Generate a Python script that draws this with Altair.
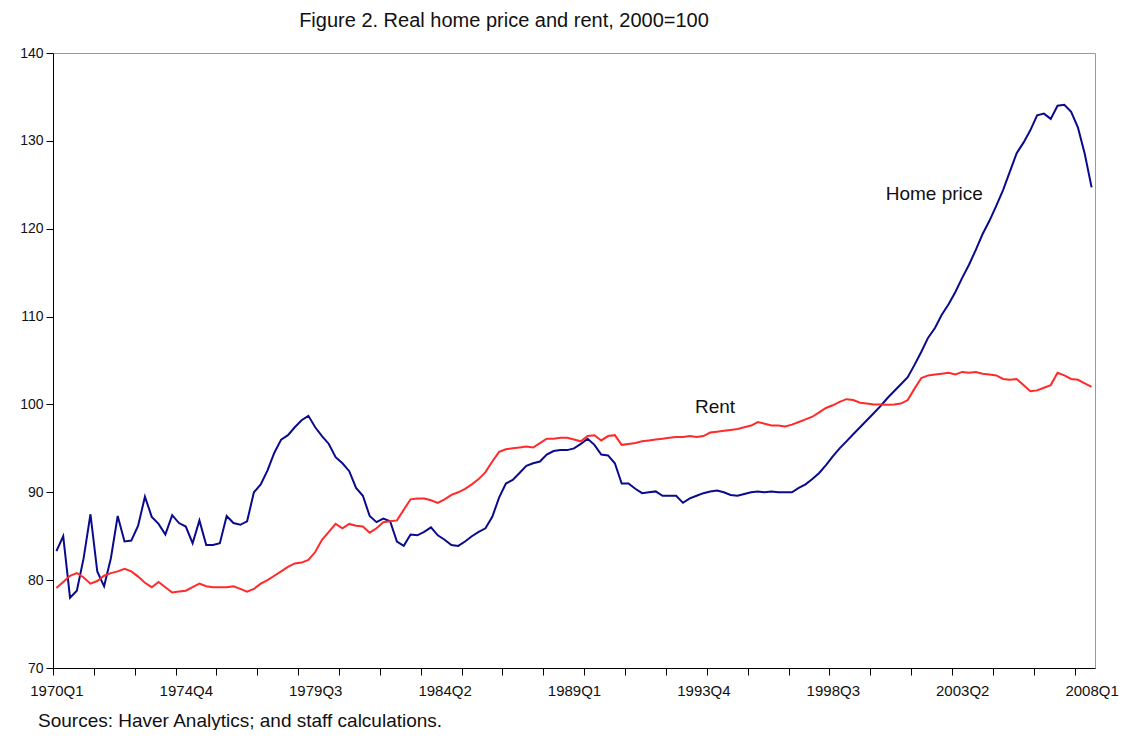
import altair as alt
import pandas as pd

# quarterly index 0 = 1970Q1 ... 152 = 2008Q1
home_price = [
    83.3, 85.0, 78.0, 78.8, 82.5, 87.5, 81.0, 79.3, 82.5, 87.3,
    84.4, 84.5, 86.2, 89.5, 87.2, 86.4, 85.2, 87.4, 86.5, 86.1,
    84.2, 86.8, 84.0, 84.0, 84.2, 87.3, 86.5, 86.3, 86.7, 90.0,
    90.9, 92.5, 94.5, 96.0, 96.5, 97.4, 98.2, 98.7, 97.4, 96.4,
    95.5, 94.0, 93.3, 92.4, 90.5, 89.6, 87.3, 86.6, 87.0, 86.7,
    84.4, 83.9, 85.2, 85.1, 85.5, 86.0, 85.1, 84.6, 84.0, 83.9,
    84.4, 85.0, 85.5, 85.9, 87.2, 89.4, 91.0, 91.4, 92.2, 93.0,
    93.3, 93.5, 94.3, 94.7, 94.8, 94.8, 95.0, 95.5, 96.1, 95.4,
    94.3, 94.2, 93.3, 91.0, 91.0, 90.4, 89.9, 90.0, 90.1, 89.6,
    89.6, 89.6, 88.8, 89.3, 89.6, 89.9, 90.1, 90.2, 90.0, 89.7,
    89.6, 89.8, 90.0, 90.1, 90.0, 90.1, 90.0, 90.0, 90.0, 90.5,
    90.9, 91.5, 92.2, 93.1, 94.1, 95.0, 95.8, 96.6, 97.4, 98.2,
    99.0, 99.8, 100.7, 101.5, 102.3, 103.1, 104.5, 106.0, 107.6, 108.7,
    110.2, 111.4, 112.8, 114.4, 115.9, 117.6, 119.4, 120.9, 122.6, 124.4,
    126.5, 128.6, 129.8, 131.2, 132.9, 133.1, 132.5, 134.0, 134.1, 133.3,
    131.5, 128.5, 124.7,
]

rent = [
    79.1, 79.8, 80.5, 80.8, 80.3, 79.6, 79.9, 80.5, 80.8, 81.0,
    81.3, 81.0, 80.4, 79.7, 79.2, 79.8, 79.2, 78.6, 78.7, 78.8,
    79.2, 79.6, 79.3, 79.2, 79.2, 79.2, 79.3, 79.0, 78.7, 79.0,
    79.6, 80.0, 80.5, 81.0, 81.5, 81.9, 82.0, 82.3, 83.2, 84.6,
    85.5, 86.4, 85.9, 86.4, 86.2, 86.1, 85.4, 85.9, 86.6, 86.7,
    86.8, 88.0, 89.2, 89.3, 89.3, 89.1, 88.8, 89.2, 89.7, 90.0,
    90.4, 90.9, 91.5, 92.3, 93.5, 94.6, 94.9, 95.0, 95.1, 95.2,
    95.1, 95.6, 96.1, 96.1, 96.2, 96.2, 96.0, 95.8, 96.4, 96.5,
    95.9, 96.4, 96.5, 95.4, 95.5, 95.6, 95.8, 95.9, 96.0, 96.1,
    96.2, 96.3, 96.3, 96.4, 96.3, 96.4, 96.8, 96.9, 97.0, 97.1,
    97.2, 97.4, 97.6, 98.0, 97.8, 97.6, 97.6, 97.5, 97.7, 98.0,
    98.3, 98.6, 99.1, 99.6, 99.9, 100.3, 100.6, 100.5, 100.2, 100.1,
    100.0, 100.0, 99.95, 100.0, 100.1, 100.5, 101.8, 103.0, 103.3, 103.4,
    103.5, 103.6, 103.4, 103.7, 103.6, 103.7, 103.5, 103.4, 103.3, 102.9,
    102.8, 102.9, 102.2, 101.5, 101.6, 101.9, 102.2, 103.6, 103.3, 102.9,
    102.8, 102.4, 102.0,
]

tick_labels = ["1970Q1", "1974Q4", "1979Q3", "1984Q2", "1989Q1",
               "1993Q4", "1998Q3", "2003Q2", "2008Q1"]
label_positions = [0, 19, 38, 57, 76, 95, 114, 133, 152]
minor_tick_positions = [i * 6 - 0.5 for i in range(26)]
y_ticks = [70, 80, 90, 100, 110, 120, 130, 140]

series_labels = ["Home price", "Rent"]
series_label_q = [128.9, 96.7]
series_label_v = [124.0, 99.7]

FONT = "Liberation Sans"
TXT = "#111111"

quarters = list(range(len(home_price)))
df_home = pd.DataFrame({"q": quarters, "v": home_price})
df_rent = pd.DataFrame({"q": quarters, "v": rent})
df_lab = pd.DataFrame({"q": series_label_q, "v": series_label_v, "t": series_labels})
df_src = pd.DataFrame({"t": ["Sources: Haver Analytics; and staff calculations."]})

xscale = alt.Scale(domain=[-0.5, 152.5], nice=False, zero=False)
yscale = alt.Scale(domain=[70, 140], nice=False, zero=False)

label_expr = "[" + ",".join("'%s'" % s for s in tick_labels) + "][round(datum.value/19)]"

y_axis = alt.Axis(values=y_ticks, title=None, grid=False, domainColor="#000",
                  tickColor="#000", tickSize=7, labelFont=FONT, labelFontSize=14,
                  labelColor=TXT, labelPadding=3)

home = alt.Chart(df_home).mark_line(color="#0a0a8c", strokeWidth=2).encode(
    x=alt.X("q:Q", scale=xscale,
            axis=alt.Axis(values=label_positions, labelExpr=label_expr, title=None,
                          grid=False, ticks=False, domain=True, domainColor="#000",
                          labelFont=FONT, labelFontSize=15, labelColor=TXT,
                          labelPadding=15, orient="bottom", labelFlush=False)),
    y=alt.Y("v:Q", scale=yscale, axis=y_axis),
)

rent_line = alt.Chart(df_rent).mark_line(color="#ff2a2a", strokeWidth=2).encode(
    x=alt.X("q:Q", scale=xscale,
            axis=alt.Axis(values=minor_tick_positions, labels=False, title=None,
                          grid=False, ticks=True, domain=False, tickColor="#000",
                          tickSize=7, orient="bottom")),
    y=alt.Y("v:Q", scale=yscale, axis=None),
)

labels = alt.Chart(df_lab).mark_text(font=FONT, fontSize=19, color=TXT).encode(
    x=alt.X("q:Q", scale=xscale, axis=None),
    y=alt.Y("v:Q", scale=yscale, axis=None),
    text="t:N",
)

source = alt.Chart(df_src).mark_text(font=FONT, fontSize=19, color=TXT,
                                     align="left", baseline="alphabetic").encode(
    x=alt.value(-15), y=alt.value(674), text="t:N",
)

chart = alt.layer(home, rent_line, labels, source).resolve_axis(
    x="independent", y="independent"
).properties(
    width=1042, height=615,
    autosize=alt.AutoSizeParams(type="none"),
    padding={"left": 45, "top": 45, "right": 30, "bottom": 62},
    title=alt.TitleParams("Figure 2. Real home price and rent, 2000=100",
                          font=FONT, fontSize=20, fontWeight="normal",
                          color=TXT, anchor="middle", dx=-70, offset=15),
).configure_view(stroke="#999", strokeWidth=1)

chart.save("out.html", embed_options={"renderer": "svg", "actions": False})
